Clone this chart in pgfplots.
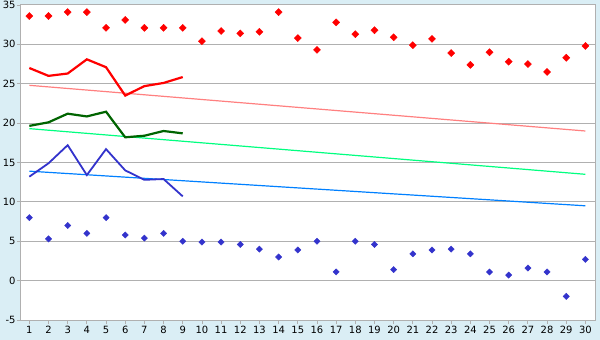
\documentclass[border=0pt]{standalone}
\usepackage{pgfplots}
\pgfplotsset{compat=1.18}
\usepackage{fontspec}
\setmainfont{DejaVu Sans}
\definecolor{bgblue}{RGB}{218,238,245}
\definecolor{gridgray}{RGB}{176,176,176}
\definecolor{ptred}{RGB}{255,0,0}
\definecolor{ptblue}{RGB}{51,51,204}
\definecolor{lnred}{RGB}{255,0,0}
\definecolor{lngreen}{RGB}{0,100,0}
\definecolor{lnblue}{RGB}{51,51,204}
\definecolor{trred}{RGB}{255,128,128}
\definecolor{trgreen}{RGB}{0,255,128}
\definecolor{trblue}{RGB}{0,128,255}
\begin{document}
\begin{tikzpicture}
\fill[bgblue] (0,0) rectangle (600bp,340bp);
\useasboundingbox (0,0) rectangle (600bp,340bp);
\begin{axis}[
  at={(20.7bp,20bp)}, anchor=south west,
  scale only axis, width=574.3bp, height=315bp,
  xmin=0.55, xmax=30.5, ymin=-5, ymax=35,
  xtick={1,...,30}, ytick={-5,0,5,10,15,20,25,30,35},
  xtick pos=left, ytick pos=left, tick align=outside,
  major tick length=4bp,
  tick style={gridgray, line width=0.8bp},
  axis line style={gridgray, line width=1bp},
  axis background/.style={fill=white},
  ymajorgrids, grid style={gridgray, line width=1bp},
  /pgf/number format/assume math mode=true,
  ticklabel style={font=\fontsize{10}{12}\selectfont, text=black},
  yticklabel style={inner sep=1bp},
  xticklabel style={inner sep=2bp},
  clip=false,
]
% trend lines
\addplot[trred, line width=1.2bp] coordinates {(1,24.8) (30,19.0)};
\addplot[trgreen, line width=1.2bp] coordinates {(1,19.3) (30,13.5)};
\addplot[trblue, line width=1.2bp] coordinates {(1,13.9) (30,9.5)};
% max points
\addplot[only marks, mark=square*, mark size=2.5bp, ptred, mark options={fill=ptred, draw=ptred, rotate=45}] coordinates {
(1,33.6) (2,33.6) (3,34.1) (4,34.1) (5,32.1) (6,33.1) (7,32.1) (8,32.1) (9,32.1) (10,30.4)
(11,31.7) (12,31.4) (13,31.6) (14,34.1) (15,30.8) (16,29.3) (17,32.8) (18,31.3) (19,31.8) (20,30.9)
(21,29.9) (22,30.7) (23,28.9) (24,27.4) (25,29.0) (26,27.8) (27,27.5) (28,26.5) (29,28.3) (30,29.8)};
% min points
\addplot[only marks, mark=square*, mark size=2.2bp, ptblue, mark options={fill=ptblue, draw=ptblue, rotate=45}] coordinates {
(1,8.0) (2,5.3) (3,7.0) (4,6.0) (5,8.0) (6,5.8) (7,5.4) (8,6.0) (9,5.0) (10,4.9)
(11,4.9) (12,4.6) (13,4.0) (14,3.0) (15,3.9) (16,5.0) (17,1.1) (18,5.0) (19,4.6) (20,1.4)
(21,3.4) (22,3.9) (23,4.0) (24,3.4) (25,1.1) (26,0.7) (27,1.6) (28,1.1) (29,-2.0) (30,2.7)};
% lines
\addplot[lnred, line width=2.2bp] coordinates {
(1,27.0) (2,26.0) (3,26.3) (4,28.1) (5,27.1) (6,23.5) (7,24.7) (8,25.1) (9,25.85)};
\addplot[lngreen, line width=2.2bp] coordinates {
(1,19.65) (2,20.1) (3,21.2) (4,20.85) (5,21.45) (6,18.2) (7,18.4) (8,19.0) (9,18.7)};
\addplot[lnblue, line width=1.8bp] coordinates {
(1,13.2) (2,14.9) (3,17.2) (4,13.4) (5,16.7) (6,14.0) (7,12.8) (8,12.9) (9,10.7)};
\end{axis}
\end{tikzpicture}
\end{document}
